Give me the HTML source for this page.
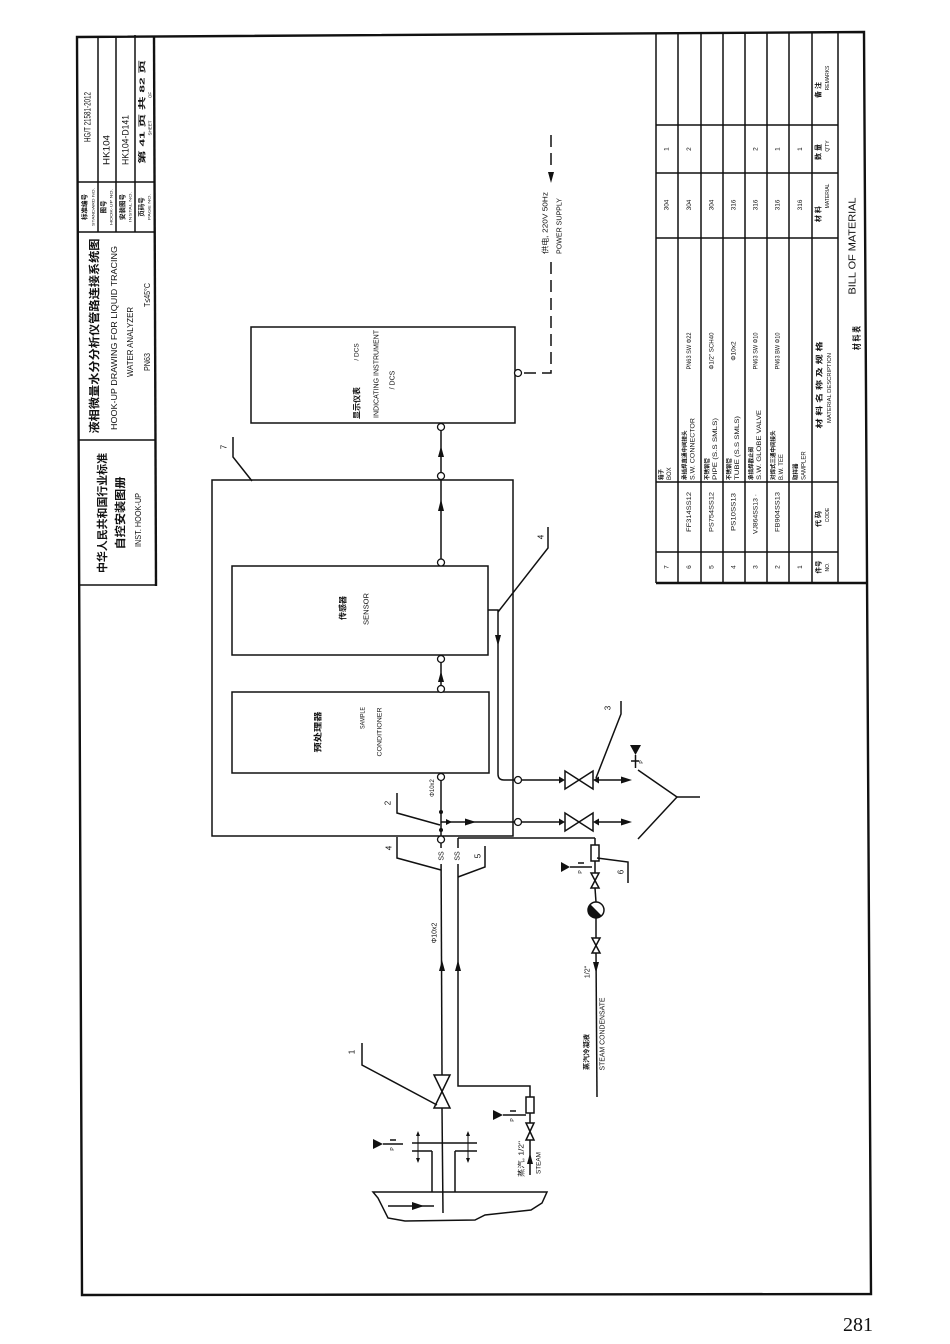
<!DOCTYPE html>
<html><head><meta charset="utf-8"><style>
html,body{margin:0;padding:0;background:#fff;}
svg{display:block}
.l{stroke:#111;stroke-width:1.5;fill:none}
.th{stroke:#111;stroke-width:2.4;fill:none}
.d{stroke:#111;stroke-width:1.5;fill:none;stroke-dasharray:12 6}
.f{fill:#111;stroke:none}
.c{fill:#fff;stroke:#111;stroke-width:1.3}
text{font-family:"Liberation Sans","Noto Sans CJK SC",sans-serif;fill:#111;text-anchor:middle;dominant-baseline:central}
.b{font-weight:bold}
.s{text-anchor:start}
</style></head><body>
<svg width="950" height="1344" viewBox="0 0 950 1344" xmlns="http://www.w3.org/2000/svg">
<rect width="950" height="1344" fill="#fff"/>
<!-- page border -->
<polygon class="th" points="77,37 864,32 871,1294 82,1295"/>

<!-- title strip -->
<line class="th" x1="154" y1="36" x2="156" y2="586"/>
<line class="l" x1="79" y1="585" x2="156" y2="585"/>
<line class="l" x1="78" y1="440" x2="155" y2="440"/>
<line class="l" x1="78" y1="232" x2="155" y2="232"/>
<line class="l" x1="78" y1="182" x2="155" y2="182"/>
<line class="l" x1="98" y1="36" x2="98" y2="232"/>
<line class="l" x1="116" y1="36" x2="116" y2="232"/>
<line class="l" x1="135" y1="35" x2="135" y2="232"/>

<text transform="translate(88 117) rotate(-90)" font-size="9.5" textLength="50" lengthAdjust="spacingAndGlyphs">HG/T 21581-2012</text>
<text transform="translate(107 150) rotate(-90)" font-size="9.5" textLength="30" lengthAdjust="spacingAndGlyphs">HK104</text>
<text transform="translate(126 140) rotate(-90)" font-size="9.5" textLength="50" lengthAdjust="spacingAndGlyphs">HK104-D141</text>
<text transform="translate(142 112) rotate(-90)" font-size="7.5" class="b" textLength="104" lengthAdjust="spacingAndGlyphs">第 41 页 共 82 页</text>
<text transform="translate(150 128) rotate(-90)" font-size="4.5">SHEET</text>
<text transform="translate(150 95) rotate(-90)" font-size="4.5">OF</text>

<text transform="translate(85 207) rotate(-90)" font-size="6.5" class="b">标准编号</text>
<text transform="translate(93 207) rotate(-90)" font-size="4" textLength="38" lengthAdjust="spacingAndGlyphs">STANDARD NO.</text>
<text transform="translate(104 207) rotate(-90)" font-size="6.5" class="b">图号</text>
<text transform="translate(111 207) rotate(-90)" font-size="4" textLength="36" lengthAdjust="spacingAndGlyphs">HOOK-UP NO.</text>
<text transform="translate(123 207) rotate(-90)" font-size="6.5" class="b">安装图号</text>
<text transform="translate(130 207) rotate(-90)" font-size="4" textLength="30" lengthAdjust="spacingAndGlyphs">INSTAL NO.</text>
<text transform="translate(142 207) rotate(-90)" font-size="6.5" class="b">页码号</text>
<text transform="translate(149 207) rotate(-90)" font-size="4" textLength="26" lengthAdjust="spacingAndGlyphs">PAGE NO.</text>

<text transform="translate(95 336) rotate(-90)" font-size="11" class="b" textLength="195" lengthAdjust="spacingAndGlyphs">液相微量水分分析仪管路连接系统图</text>
<text transform="translate(114 338) rotate(-90)" font-size="8.5" textLength="184" lengthAdjust="spacingAndGlyphs">HOOK-UP DRAWING FOR LIQUID TRACING</text>
<text transform="translate(130 342) rotate(-90)" font-size="8.5" textLength="70" lengthAdjust="spacingAndGlyphs">WATER ANALYZER</text>
<text transform="translate(147 362) rotate(-90)" font-size="8.5" textLength="18" lengthAdjust="spacingAndGlyphs">PN63</text>
<text transform="translate(147 295) rotate(-90)" font-size="8.5" textLength="24" lengthAdjust="spacingAndGlyphs">T≤45°C</text>

<text transform="translate(103 513) rotate(-90)" font-size="11" class="b" textLength="120" lengthAdjust="spacingAndGlyphs">中华人民共和国行业标准</text>
<text transform="translate(121 513) rotate(-90)" font-size="11" class="b" textLength="73" lengthAdjust="spacingAndGlyphs">自控安装图册</text>
<text transform="translate(138 520) rotate(-90)" font-size="8.5" textLength="54" lengthAdjust="spacingAndGlyphs">INST. HOOK-UP</text>

<!-- BOM table -->
<g class="l">
<line x1="656" y1="33" x2="656" y2="583"/>
<line x1="678" y1="33" x2="678" y2="583"/>
<line x1="701" y1="33" x2="701" y2="583"/>
<line x1="723" y1="33" x2="723" y2="583"/>
<line x1="745" y1="33" x2="745" y2="583"/>
<line x1="767" y1="33" x2="767" y2="583"/>
<line x1="789" y1="33" x2="789" y2="583"/>
<line x1="812" y1="33" x2="812" y2="583"/>
<line x1="838" y1="32" x2="838" y2="583"/>
<line x1="656" y1="125" x2="838" y2="125"/>
<line x1="656" y1="173" x2="838" y2="173"/>
<line x1="656" y1="238" x2="838" y2="238"/>
<line x1="656" y1="482" x2="838" y2="482"/>
<line x1="656" y1="552" x2="838" y2="552"/>
</g>
<line class="th" x1="656" y1="583" x2="868" y2="583"/>

<!-- table header -->
<text transform="translate(857 338) rotate(-90)" font-size="9" class="b" textLength="24" lengthAdjust="spacingAndGlyphs">材 料 表</text>
<text transform="translate(853 246) rotate(-90)" font-size="10" textLength="97" lengthAdjust="spacingAndGlyphs">BILL OF MATERIAL</text>
<text transform="translate(819 567) rotate(-90)" font-size="6.5" class="b">件号</text>
<text transform="translate(828 567) rotate(-90)" font-size="5">NO.</text>
<text transform="translate(819 519) rotate(-90)" font-size="7" class="b">代 码</text>
<text transform="translate(828 515) rotate(-90)" font-size="5">CODE</text>
<text transform="translate(820 385) rotate(-90)" font-size="7" class="b" textLength="87" lengthAdjust="spacingAndGlyphs">材 料 名 称 及 规 格</text>
<text transform="translate(830 388) rotate(-90)" font-size="5" textLength="70" lengthAdjust="spacingAndGlyphs">MATERIAL DESCRIPTION</text>
<text transform="translate(819 214) rotate(-90)" font-size="7" class="b">材 料</text>
<text transform="translate(828 196) rotate(-90)" font-size="5">MATERIAL</text>
<text transform="translate(819 152) rotate(-90)" font-size="7" class="b">数 量</text>
<text transform="translate(828 146) rotate(-90)" font-size="5">Q'TY</text>
<text transform="translate(819 90) rotate(-90)" font-size="7" class="b">备 注</text>
<text transform="translate(828 78) rotate(-90)" font-size="5">REMARKS</text>

<!-- table rows -->
<g font-size="6.5">
<text transform="translate(667 567) rotate(-90)">7</text>
<text transform="translate(689.5 567) rotate(-90)">6</text>
<text transform="translate(712 567) rotate(-90)">5</text>
<text transform="translate(734 567) rotate(-90)">4</text>
<text transform="translate(756 567) rotate(-90)">3</text>
<text transform="translate(778 567) rotate(-90)">2</text>
<text transform="translate(800.5 567) rotate(-90)">1</text>

<text transform="translate(689.5 512) rotate(-90)" textLength="40" lengthAdjust="spacingAndGlyphs">FF314SS12</text>
<text transform="translate(712 512) rotate(-90)" textLength="40" lengthAdjust="spacingAndGlyphs">PS754SS12</text>
<text transform="translate(734 512) rotate(-90)" textLength="38" lengthAdjust="spacingAndGlyphs">PS10SS13</text>
<text transform="translate(756 514) rotate(-90)" textLength="40" lengthAdjust="spacingAndGlyphs">VJ864SS13 ·</text>
<text transform="translate(778 512) rotate(-90)" textLength="40" lengthAdjust="spacingAndGlyphs">FB904SS13</text>

<text transform="translate(689.5 351) rotate(-90)" textLength="37" lengthAdjust="spacingAndGlyphs">PN63 SW Φ22</text>
<text transform="translate(712 351) rotate(-90)" textLength="37" lengthAdjust="spacingAndGlyphs">Φ1/2" SCH40</text>
<text transform="translate(734 351) rotate(-90)">Φ10x2</text>
<text transform="translate(756 351) rotate(-90)" textLength="37" lengthAdjust="spacingAndGlyphs">PN63 SW Φ10</text>
<text transform="translate(778 351) rotate(-90)" textLength="37" lengthAdjust="spacingAndGlyphs">PN63 BW Φ10</text>

<text transform="translate(667 205) rotate(-90)">304</text>
<text transform="translate(689.5 205) rotate(-90)">304</text>
<text transform="translate(712 205) rotate(-90)">304</text>
<text transform="translate(734 205) rotate(-90)">316</text>
<text transform="translate(756 205) rotate(-90)">316</text>
<text transform="translate(778 205) rotate(-90)">316</text>
<text transform="translate(800.5 205) rotate(-90)">316</text>

<text transform="translate(667 149) rotate(-90)">1</text>
<text transform="translate(689.5 149) rotate(-90)">2</text>
<text transform="translate(756 149) rotate(-90)">2</text>
<text transform="translate(778 149) rotate(-90)">1</text>
<text transform="translate(800.5 149) rotate(-90)">1</text>
</g>
<g font-size="5.5">
<text class="s b" transform="translate(662 480) rotate(-90)">箱子</text>
<text class="s" transform="translate(670 480) rotate(-90)" font-size="6">BOX</text>
<text class="s b" transform="translate(685.5 480) rotate(-90)">承插焊直通中间接头</text>
<text class="s" transform="translate(693.5 480) rotate(-90)" font-size="6" textLength="62" lengthAdjust="spacingAndGlyphs">S.W. CONNECTOR</text>
<text class="s b" transform="translate(708 480) rotate(-90)">不锈钢管</text>
<text class="s" transform="translate(716 480) rotate(-90)" font-size="6" textLength="62" lengthAdjust="spacingAndGlyphs">PIPE (S.S SMLS)</text>
<text class="s b" transform="translate(730 480) rotate(-90)">不锈钢管</text>
<text class="s" transform="translate(738 480) rotate(-90)" font-size="6" textLength="64" lengthAdjust="spacingAndGlyphs">TUBE (S.S SMLS)</text>
<text class="s b" transform="translate(752 480) rotate(-90)">承插焊截止阀</text>
<text class="s" transform="translate(760 480) rotate(-90)" font-size="6" textLength="70" lengthAdjust="spacingAndGlyphs">S.W. GLOBE VALVE</text>
<text class="s b" transform="translate(774 480) rotate(-90)">对焊式三通中间接头</text>
<text class="s" transform="translate(782 480) rotate(-90)" font-size="6">B.W. TEE</text>
<text class="s b" transform="translate(796.5 480) rotate(-90)">取样器</text>
<text class="s" transform="translate(804.5 480) rotate(-90)" font-size="6">SAMPLER</text>
</g>

<!-- boxes -->
<rect class="l" x="251" y="327" width="264" height="96"/>
<rect class="l" x="212" y="480" width="301" height="356"/>
<rect class="l" x="232" y="566" width="256" height="89"/>
<rect class="l" x="232" y="692" width="257" height="81"/>

<text transform="translate(357 403) rotate(-90)" font-size="8" class="b">显示仪表</text>
<text transform="translate(357 352) rotate(-90)" font-size="6.5">/ DCS</text>
<text transform="translate(377 374) rotate(-90)" font-size="7" textLength="88" lengthAdjust="spacingAndGlyphs">INDICATING INSTRUMENT</text>
<text transform="translate(393 380) rotate(-90)" font-size="7">/ DCS</text>
<text transform="translate(343 608) rotate(-90)" font-size="8" class="b">传感器</text>
<text transform="translate(367 609) rotate(-90)" font-size="7" textLength="32" lengthAdjust="spacingAndGlyphs">SENSOR</text>
<text transform="translate(318 732) rotate(-90)" font-size="8" class="b" textLength="41" lengthAdjust="spacingAndGlyphs">预处理器</text>
<text transform="translate(363 718) rotate(-90)" font-size="6.5" textLength="22" lengthAdjust="spacingAndGlyphs">SAMPLE</text>
<text transform="translate(380 732) rotate(-90)" font-size="6.5" textLength="49" lengthAdjust="spacingAndGlyphs">CONDITIONER</text>

<!-- main vertical signal line -->
<g class="l">
<line x1="441" y1="430" x2="441" y2="472.5"/>
<line x1="441" y1="479.5" x2="441" y2="559"/>
<line x1="441" y1="662.5" x2="441" y2="685.5"/>
<line x1="441" y1="780.5" x2="441" y2="836"/>
<line x1="441" y1="843" x2="442" y2="1075"/>
<line x1="442" y1="1108" x2="443" y2="1213"/>
<line x1="441" y1="822" x2="514.5" y2="822"/>
<line x1="521.5" y1="822" x2="560" y2="822"/>
<line x1="598" y1="822" x2="626" y2="822"/>
<path d="M488,610 H498 V774 Q498,780 504,780 H514.5"/>
<line x1="521.5" y1="780" x2="560" y2="780"/>
<line x1="598" y1="780" x2="626" y2="780"/>
</g>
<g class="c">
<circle cx="441" cy="427" r="3.5"/>
<circle cx="441" cy="476" r="3.5"/>
<circle cx="441" cy="562.5" r="3.5"/>
<circle cx="441" cy="659" r="3.5"/>
<circle cx="441" cy="689" r="3.5"/>
<circle cx="441" cy="777" r="3.5"/>
<circle cx="441" cy="839.5" r="3.5"/>
<circle cx="518" cy="822" r="3.5"/>
<circle cx="518" cy="780" r="3.5"/>
<circle cx="518" cy="373" r="3.5"/>
</g>
<g class="f">
<polygon points="441,446 438,457 444,457"/>
<polygon points="441,499 438,511 444,511"/>
<polygon points="441,671 438,682 444,682"/>
<polygon points="498,646 495,635 501,635"/>
<polygon points="476,822 465,818.5 465,825.5"/>
<polygon points="632,822 621,818.5 621,825.5"/>
<polygon points="632,780 621,776.5 621,783.5"/>
<circle cx="441" cy="812" r="2"/>
<circle cx="441" cy="830" r="2"/>
<polygon points="452,822 446,819 446,825"/>
<polygon points="565,780 559,776.5 559,783.5"/>
<polygon points="593,780 599,776.5 599,783.5"/>
<polygon points="565,822 559,818.5 559,825.5"/>
<polygon points="593,822 599,818.5 599,825.5"/>
</g>
<!-- gate valves -->
<g class="l">
<polygon points="565,771 565,789 579,780"/>
<polygon points="593,771 593,789 579,780"/>
<polygon points="565,813 565,831 579,822"/>
<polygon points="593,813 593,831 579,822"/>
</g>
<!-- drain -->
<polyline class="l" points="638,770 677,797 638,839"/>
<line class="l" x1="677" y1="797" x2="700" y2="797"/>
<!-- P indicator near drain -->
<polygon class="f" points="630,745 641,745 635.5,755"/>
<line class="l" x1="635.5" y1="755" x2="635.5" y2="768"/>
<line class="l" x1="631" y1="761" x2="639" y2="761"/>
<text transform="translate(642 762) rotate(-90)" font-size="5">P</text>

<!-- leaders -->
<polyline class="l" points="252,481 233,457 233,437"/>
<text transform="translate(224 447) rotate(-90)" font-size="8">7</text>
<polyline class="l" points="498,612 548,548 548,527"/>
<text transform="translate(541 537) rotate(-90)" font-size="8">4</text>
<polyline class="l" points="440,825 397,813 397,793"/>
<text transform="translate(388 803) rotate(-90)" font-size="8">2</text>
<polyline class="l" points="596,778 621,714 621,701"/>
<text transform="translate(608 708) rotate(-90)" font-size="8">3</text>
<text transform="translate(433 788) rotate(-90)" font-size="6">Φ10x2</text>

<!-- power supply -->
<path class="d" d="M551,135 V170"/>
<path class="d" d="M551,262 V373 H524" />
<polygon class="f" points="551,183 548,172 554,172"/>
<text class="s" transform="translate(546 254) rotate(-90)" font-size="7" textLength="62" lengthAdjust="spacingAndGlyphs">供电, 220V 50Hz</text>
<text transform="translate(560 226) rotate(-90)" font-size="7" textLength="56" lengthAdjust="spacingAndGlyphs">POWER SUPPLY</text>

<!-- lower piping -->
<g class="l">
<path d="M458,838 V1086 H530 V1097"/>
<line x1="458" y1="838" x2="595" y2="838"/>
<line x1="595" y1="838" x2="595" y2="845"/>
<rect x="591" y="845" width="8" height="16"/>
<line x1="595" y1="861" x2="595" y2="873"/>
<line x1="595" y1="888" x2="596" y2="902"/>
<circle cx="596" cy="910" r="8"/>
<line x1="596" y1="918" x2="596" y2="938"/>
<line x1="596" y1="953" x2="597" y2="1097"/>
<rect x="526" y="1097" width="8" height="16"/>
<line x1="530" y1="1113" x2="530" y2="1123"/>
<line x1="530" y1="1140" x2="530" y2="1175"/>
<polygon points="591,873 599,873 595,880.5"/>
<polygon points="591,888 599,888 595,880.5"/>
<polygon points="592,938 600,938 596,945.5"/>
<polygon points="592,953 600,953 596,945.5"/>
<polygon points="526,1123 534,1123 530,1131.5"/>
<polygon points="526,1140 534,1140 530,1131.5"/>
<polygon points="434,1075 450,1075 442,1091.5"/>
<polygon points="434,1108 450,1108 442,1091.5"/>
</g>
<path class="f" d="M590.3,904.3 A8,8 0 0 0 601.7,915.7 Z"/>
<g class="f">
<polygon points="442,960 439,971 445,971"/>
<polygon points="458,960 455,971 461,971"/>
<polygon points="596,973 593,962 599,962"/>
<polygon points="530,1153 527,1164 533,1164"/>
</g>
<!-- SS labels -->
<rect x="437" y="848" width="10" height="16" fill="#fff"/>
<rect x="453" y="848" width="10" height="16" fill="#fff"/>
<text transform="translate(442 856) rotate(-90)" font-size="7">SS</text>
<text transform="translate(458 856) rotate(-90)" font-size="7">SS</text>
<!-- leaders 4,5,6 -->
<polyline class="l" points="441,870 397,858 397,837"/>
<text transform="translate(389 848) rotate(-90)" font-size="8">4</text>
<polyline class="l" points="458,877 485,867 485,846"/>
<text transform="translate(478 856) rotate(-90)" font-size="8">5</text>
<polyline class="l" points="597,858 628,862 628,883"/>
<text transform="translate(621 872) rotate(-90)" font-size="8">6</text>
<!-- P indicator condensate -->
<polygon class="f" points="561,862 561,872 570,867"/>
<line class="l" x1="570" y1="867" x2="592" y2="867"/>
<line class="l" x1="578" y1="863" x2="584" y2="863"/>
<text transform="translate(581 872) rotate(-90)" font-size="5">P</text>
<text transform="translate(435 933) rotate(-90)" font-size="7">Φ10x2</text>
<text transform="translate(588 972) rotate(-90)" font-size="7">1/2"</text>
<text transform="translate(587 1052) rotate(-90)" font-size="6.5" class="b" textLength="36" lengthAdjust="spacingAndGlyphs">蒸汽冷凝液</text>
<text transform="translate(603 1034) rotate(-90)" font-size="7" textLength="73" lengthAdjust="spacingAndGlyphs">STEAM CONDENSATE</text>

<!-- steam supply -->
<polygon class="f" points="493,1110 493,1120 503,1115"/>
<line class="l" x1="503" y1="1115" x2="526" y2="1115"/>
<line class="l" x1="510" y1="1111" x2="516" y2="1111"/>
<text transform="translate(513 1120) rotate(-90)" font-size="5">P</text>
<text transform="translate(522 1159) rotate(-90)" font-size="7" textLength="36" lengthAdjust="spacingAndGlyphs">蒸汽, 1/2"</text>
<text transform="translate(539 1163) rotate(-90)" font-size="6.5" textLength="22" lengthAdjust="spacingAndGlyphs">STEAM</text>

<!-- leader 1 -->
<polyline class="l" points="437,1105 362,1065 362,1043"/>
<text transform="translate(352 1052) rotate(-90)" font-size="8">1</text>

<!-- flange & nozzle -->
<g class="l">
<line x1="412" y1="1143" x2="477" y2="1143"/>
<line x1="412" y1="1151" x2="432" y2="1151"/>
<line x1="455" y1="1151" x2="477" y2="1151"/>
<line x1="432" y1="1151" x2="432" y2="1192"/>
<line x1="455" y1="1151" x2="455" y2="1192"/>
<line x1="418" y1="1133" x2="418" y2="1161" stroke-width="1"/>
<line x1="468" y1="1133" x2="468" y2="1161" stroke-width="1"/>
</g>
<g class="f">
<polygon points="418,1131 416,1136 420,1136"/>
<polygon points="418,1163 416,1158 420,1158"/>
<polygon points="468,1131 466,1136 470,1136"/>
<polygon points="468,1163 466,1158 470,1158"/>
</g>
<polygon class="f" points="373,1139 373,1149 383,1144"/>
<line class="l" x1="383" y1="1144" x2="403" y2="1144"/>
<line class="l" x1="390" y1="1140" x2="396" y2="1140"/>
<text transform="translate(393 1149) rotate(-90)" font-size="5">P</text>

<!-- vessel -->
<polygon class="l" points="373,1192 547,1192 542,1203 531,1210 485,1215 475,1220 405,1221 388,1218 378,1198"/>
<line class="l" x1="388" y1="1206" x2="434" y2="1206"/>
<polygon class="f" points="424,1206 412,1202 412,1210"/>

<!-- page number -->
<text x="858" y="1325" font-size="20" textLength="30" lengthAdjust="spacingAndGlyphs" style="font-family:'Liberation Serif',serif">281</text>
</svg>
</body></html>
